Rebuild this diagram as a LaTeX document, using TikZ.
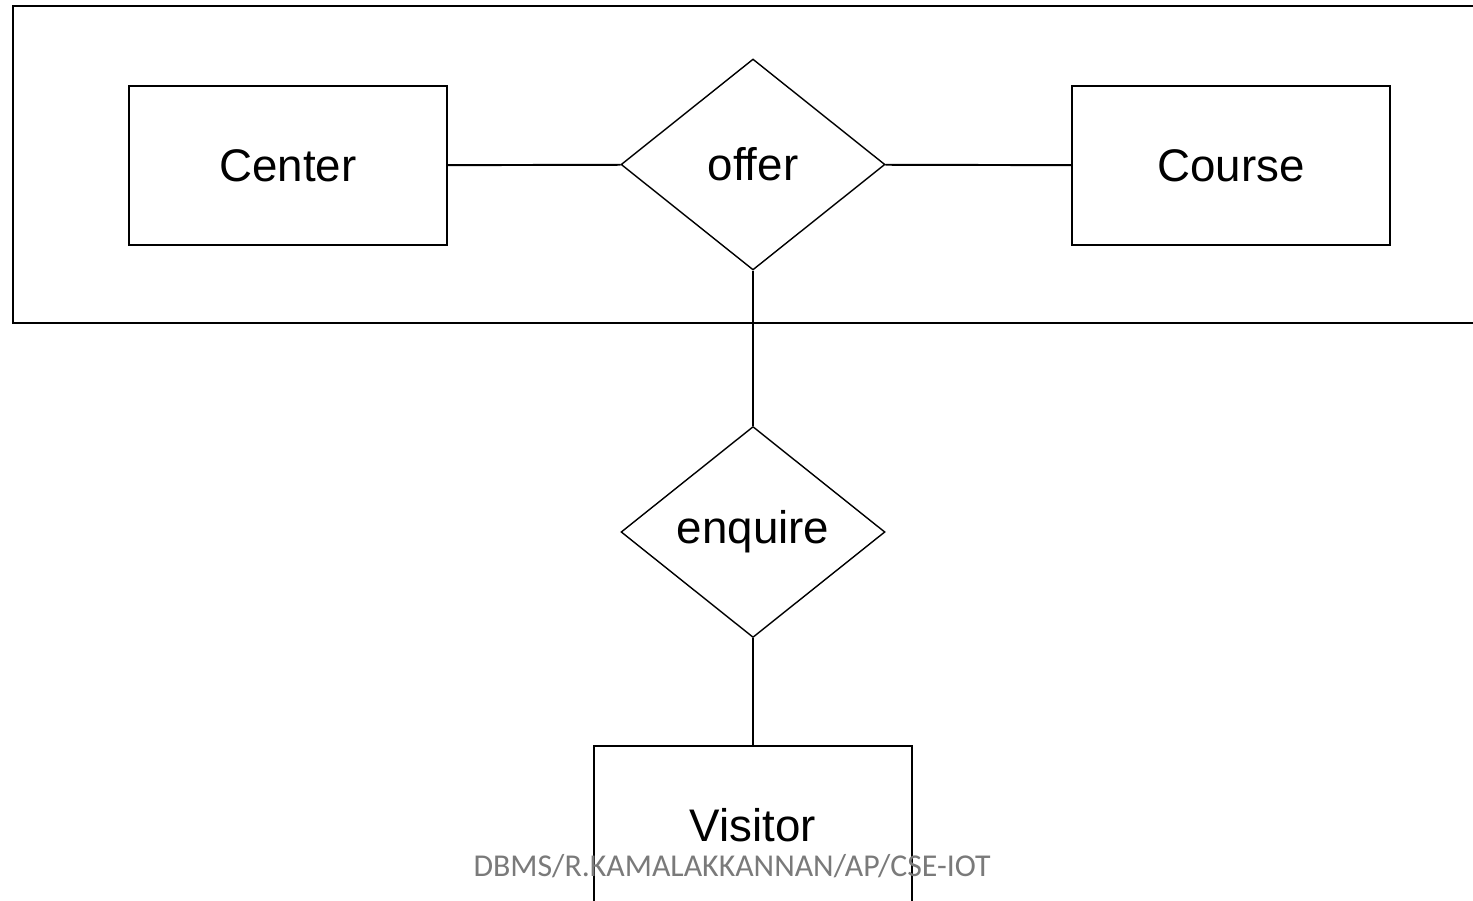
\documentclass[tikz,border=0pt]{standalone}
\usepackage{fontspec}
\setmainfont{Liberation Sans}[Ligatures=CommonOff]
\newfontfamily\footfont{Carlito}
\usetikzlibrary{shapes.geometric}
\tikzset{
	entity/.style = {rectangle, draw, line width=1.1pt, inner sep=0pt,
		minimum width=6.36cm, minimum height=3.18cm, font=\fontsize{26}{30}\selectfont},
	relation/.style = {diamond, draw, line width=0.8pt, inner sep=0pt,
		minimum width=5.28cm, minimum height=4.22cm, font=\fontsize{26}{30}\selectfont},
}
\begin{document}
\begin{tikzpicture}[x=0.02cm, y=-0.02cm, line width=1.1pt]
	\clip (0,0) rectangle (1473,901);
	\fill[white] (0,0) rectangle (1473,901);
	\node (Box)     at ( 753, 164.5)	[rectangle, draw, inner sep=0pt, minimum width=29.6cm, minimum height=6.34cm]	{};
	\node (Center)  at ( 288, 165.5)	[entity]	{Center};
	\node (Course)  at (1231, 165.5)	[entity]	{Course};
	\node (offer)   at ( 753, 164.5)	[relation]	{offer};
	\node (enquire) at ( 753, 532)		[relation]	{\raisebox{-3pt}{enquire}};
	\node (Visitor) at ( 753, 825.5)	[entity]	{Visitor};
	\node (footer)  at ( 732, 866)		[font=\footfont\fontsize{18.1}{22}\selectfont, text=black!52]	{DBMS/R.KAMALAKKANNAN/AP/CSE-IOT};
	\draw (Center) -- (offer);
	\draw (offer) -- (Course);
	\draw (offer) -- (enquire);
	\draw (enquire) -- (Visitor);
\end{tikzpicture}
\end{document}
